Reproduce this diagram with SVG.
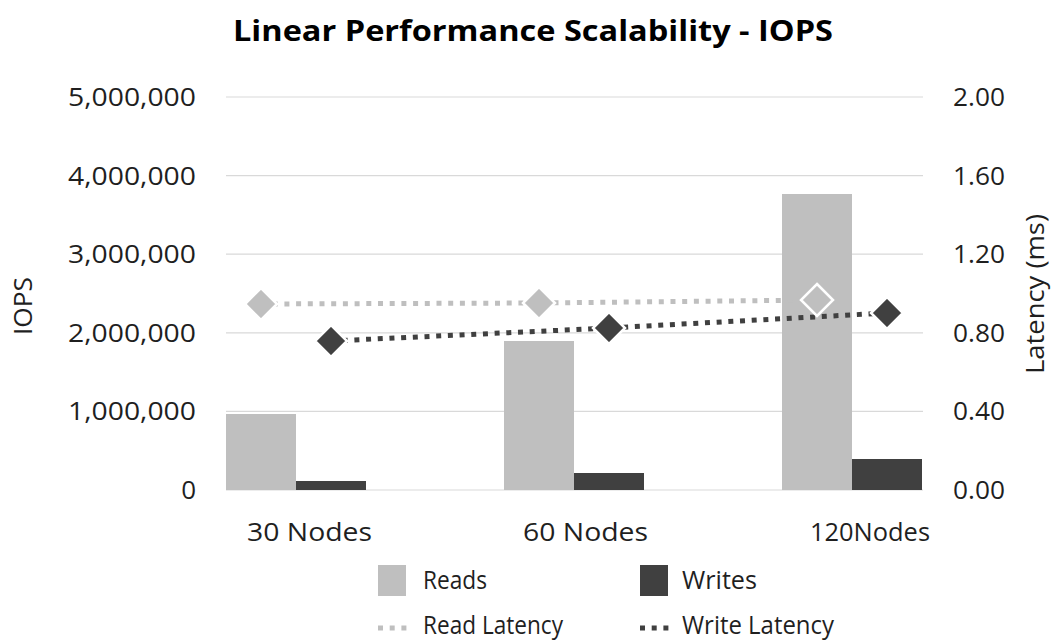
<svg xmlns="http://www.w3.org/2000/svg" width="1053" height="641" viewBox="0 0 1053 641">
<defs>
<style>
.t{font-family:"Open Sans","Liberation Sans",sans-serif;fill:#1f1f1f;font-size:26px}
.title{font-family:"Open Sans","Liberation Sans",sans-serif;font-weight:bold;font-size:28px;fill:#000}
.grid{stroke:#D9D9D9;stroke-width:1.2;fill:none}
.rd{fill:#BFBFBF}
.wr{fill:#404040}
.rl{stroke:#BFBFBF;stroke-width:5;stroke-dasharray:5 6.7;fill:none}
.wl{stroke:#404040;stroke-width:5;stroke-dasharray:5 6.7;fill:none}
.mr{fill:#BFBFBF;stroke:#fff;stroke-width:2.5}
.mw{fill:#404040;stroke:#fff;stroke-width:2.5}
</style>
<path id="dia" d="M0,-16 L16,0 L0,16 L-16,0 Z"/>
</defs>
<rect width="1053" height="641" fill="#fff"/>

<g id="title">
<text class="title" x="233" y="41" textLength="600" lengthAdjust="spacingAndGlyphs">Linear Performance Scalability - IOPS</text>
</g>

<g id="gridlines">
<line class="grid" x1="226" y1="97" x2="923" y2="97"/>
<line class="grid" x1="226" y1="175.6" x2="923" y2="175.6"/>
<line class="grid" x1="226" y1="254.2" x2="923" y2="254.2"/>
<line class="grid" x1="226" y1="332.8" x2="923" y2="332.8"/>
<line class="grid" x1="226" y1="411.4" x2="923" y2="411.4"/>
<line class="grid" x1="226" y1="490" x2="923" y2="490"/>
</g>

<g id="left-axis">
<text class="t" x="196" y="106" text-anchor="end" textLength="128" lengthAdjust="spacingAndGlyphs">5,000,000</text>
<text class="t" x="196" y="184.6" text-anchor="end" textLength="128" lengthAdjust="spacingAndGlyphs">4,000,000</text>
<text class="t" x="196" y="263.2" text-anchor="end" textLength="128" lengthAdjust="spacingAndGlyphs">3,000,000</text>
<text class="t" x="196" y="341.8" text-anchor="end" textLength="128" lengthAdjust="spacingAndGlyphs">2,000,000</text>
<text class="t" x="196" y="420.4" text-anchor="end" textLength="128" lengthAdjust="spacingAndGlyphs">1,000,000</text>
<text class="t" x="196" y="499" text-anchor="end">0</text>
<text class="t" transform="translate(32,306) rotate(-90)" text-anchor="middle" textLength="58" lengthAdjust="spacingAndGlyphs">IOPS</text>
</g>

<g id="right-axis">
<text class="t" x="953" y="106" textLength="52" lengthAdjust="spacingAndGlyphs">2.00</text>
<text class="t" x="953" y="184.6" textLength="52" lengthAdjust="spacingAndGlyphs">1.60</text>
<text class="t" x="953" y="263.2" textLength="52" lengthAdjust="spacingAndGlyphs">1.20</text>
<text class="t" x="953" y="341.8" textLength="52" lengthAdjust="spacingAndGlyphs">0.80</text>
<text class="t" x="953" y="420.4" textLength="52" lengthAdjust="spacingAndGlyphs">0.40</text>
<text class="t" x="953" y="499" textLength="52" lengthAdjust="spacingAndGlyphs">0.00</text>
<text class="t" transform="translate(1044,294) rotate(-90)" text-anchor="middle" textLength="160" lengthAdjust="spacingAndGlyphs">Latency (ms)</text>
</g>

<g id="bars">
<rect class="rd" x="226" y="414" width="70" height="76"/>
<rect class="wr" x="296" y="481" width="70" height="9"/>
<rect class="rd" x="504" y="341" width="70" height="149"/>
<rect class="wr" x="574" y="473" width="70" height="17"/>
<rect class="rd" x="782" y="194" width="70" height="296"/>
<rect class="wr" x="852" y="459" width="70" height="31"/>
</g>

<g id="connectors">
<polyline class="rl" points="261,304 539,303 817,300"/>
<polyline class="wl" points="331,341 609,328 887,313"/>
</g>

<g id="markers">
<use href="#dia" class="mr" x="261" y="304"/>
<use href="#dia" class="mr" x="539" y="303"/>
<use href="#dia" class="mr" x="817" y="300"/>
<use href="#dia" class="mw" x="331" y="341"/>
<use href="#dia" class="mw" x="609" y="328"/>
<use href="#dia" class="mw" x="887" y="313"/>
</g>

<g id="categories">
<text class="t" x="247" y="541" textLength="125" lengthAdjust="spacingAndGlyphs">30 Nodes</text>
<text class="t" x="523" y="541" textLength="125" lengthAdjust="spacingAndGlyphs">60 Nodes</text>
<text class="t" x="810" y="541" textLength="120" lengthAdjust="spacingAndGlyphs">120Nodes</text>
</g>

<g id="legend">
<rect class="rd" x="378" y="565" width="28" height="31"/>
<text class="t" x="423" y="589" textLength="64" lengthAdjust="spacingAndGlyphs">Reads</text>
<rect class="wr" x="640" y="565" width="28" height="31"/>
<text class="t" x="682" y="589" textLength="75" lengthAdjust="spacingAndGlyphs">Writes</text>
<line class="rl" x1="378" y1="628" x2="408" y2="628"/>
<text class="t" x="423" y="634" font-size="25" textLength="140" lengthAdjust="spacingAndGlyphs">Read Latency</text>
<line class="wl" x1="640" y1="628" x2="670" y2="628"/>
<text class="t" x="682" y="634" font-size="25" textLength="152" lengthAdjust="spacingAndGlyphs">Write Latency</text>
</g>
</svg>
